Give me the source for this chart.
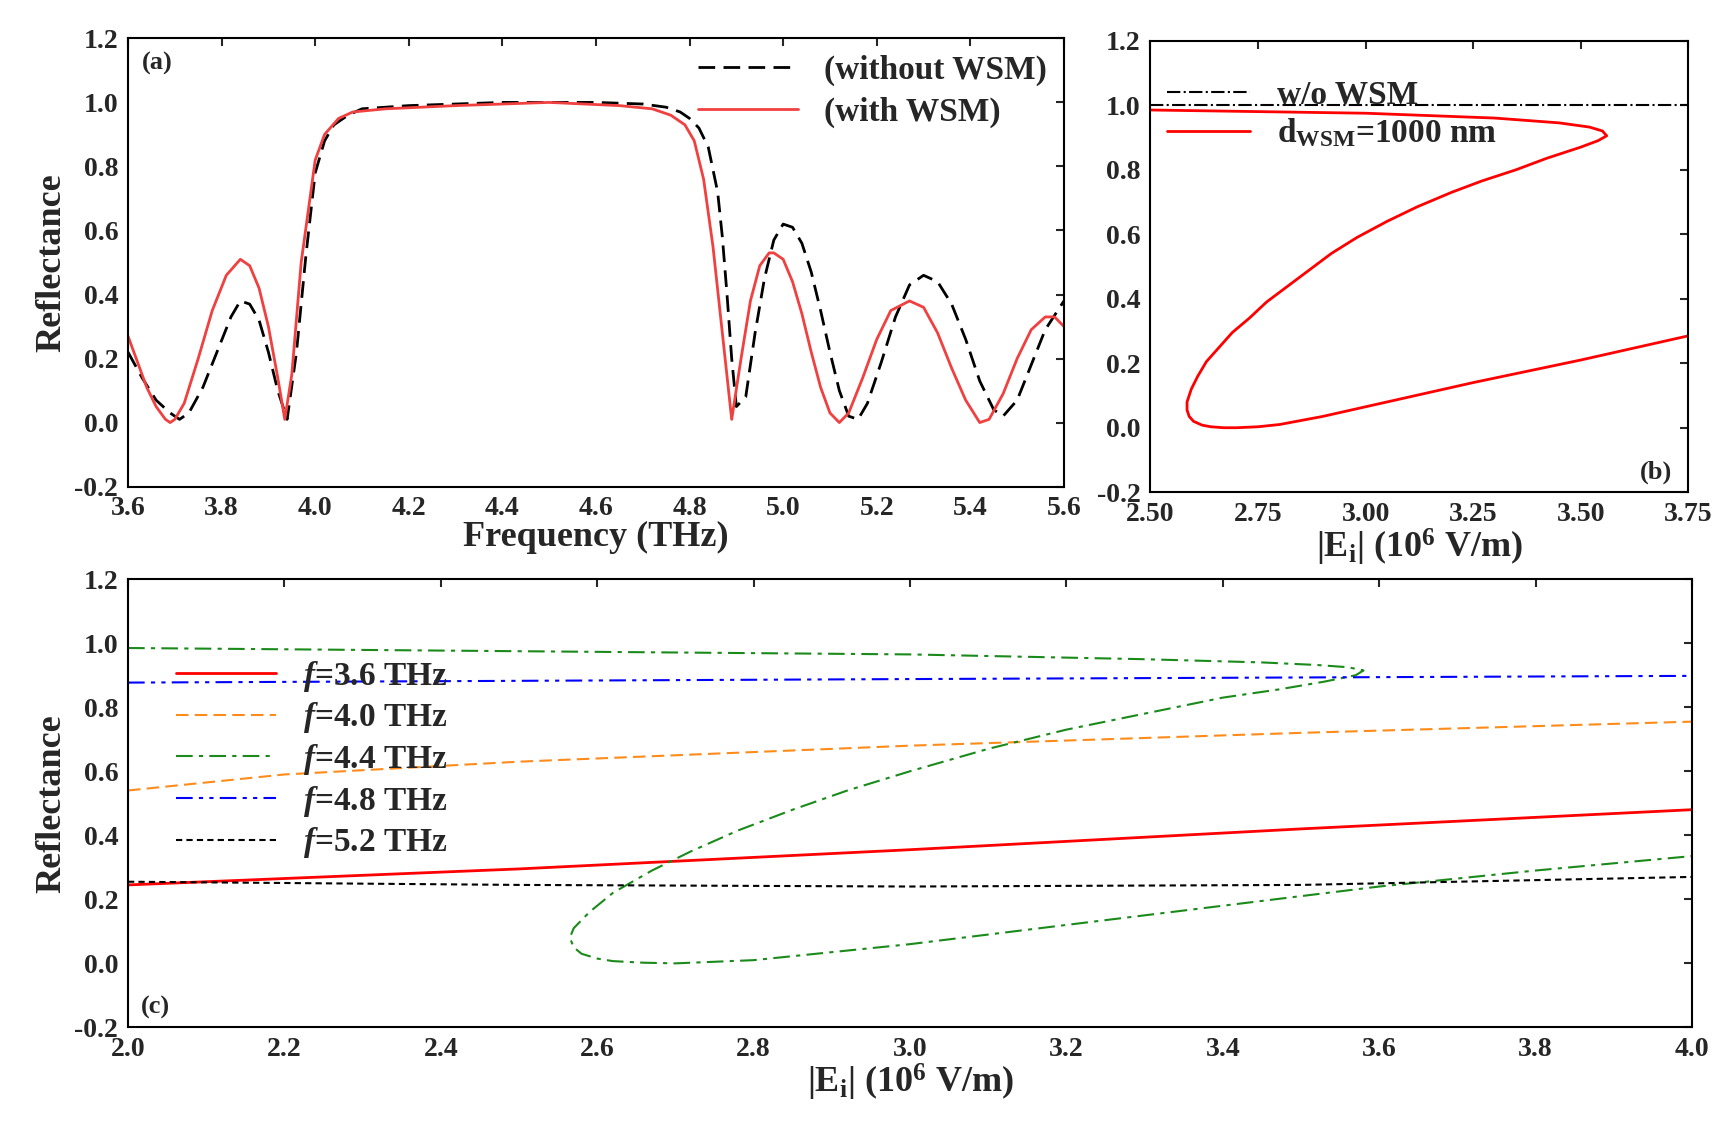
import numpy as np, pandas as pd, seaborn as sns, matplotlib
matplotlib.use("Agg")
import matplotlib.pyplot as plt
from matplotlib.ticker import MultipleLocator

sns.set_style("white")
plt.rcParams['font.family'] = ['Liberation Serif', 'DejaVu Serif']
plt.rcParams['font.weight'] = 'bold'
plt.rcParams['mathtext.fontset'] = 'custom'
plt.rcParams['mathtext.it'] = 'Liberation Serif:italic:bold'
plt.rcParams['mathtext.rm'] = 'Liberation Serif:bold'

# (a)
fa_wo = [3.6,3.63,3.66,3.69,3.71,3.73,3.76,3.79,3.82,3.84,3.86,3.88,3.90,3.92,3.94,3.96,3.98,4.0,4.02,4.04,4.07,4.1,4.2,4.4,4.6,4.7,4.75,4.78,4.80,4.82,4.84,4.86,4.87,4.88,4.89,4.90,4.92,4.94,4.96,4.98,5.0,5.02,5.04,5.06,5.08,5.10,5.12,5.14,5.16,5.18,5.21,5.24,5.27,5.30,5.33,5.36,5.39,5.42,5.45,5.47,5.50,5.53,5.56,5.6]
ra_wo = [0.22,0.14,0.07,0.03,0.01,0.03,0.11,0.22,0.33,0.38,0.37,0.32,0.22,0.10,0.01,0.22,0.52,0.78,0.88,0.93,0.96,0.98,0.99,1.0,1.0,0.995,0.985,0.97,0.95,0.92,0.86,0.72,0.58,0.40,0.20,0.05,0.08,0.28,0.45,0.57,0.62,0.61,0.56,0.47,0.35,0.22,0.10,0.02,0.01,0.06,0.19,0.33,0.43,0.46,0.44,0.37,0.26,0.13,0.04,0.02,0.07,0.18,0.29,0.38]
fa_w = [3.6,3.62,3.64,3.66,3.68,3.69,3.70,3.72,3.75,3.78,3.81,3.84,3.86,3.88,3.90,3.92,3.935,3.95,3.97,4.0,4.02,4.05,4.08,4.15,4.3,4.5,4.65,4.72,4.76,4.79,4.81,4.83,4.85,4.87,4.89,4.91,4.93,4.95,4.97,4.98,5.0,5.02,5.04,5.06,5.08,5.10,5.12,5.14,5.17,5.20,5.23,5.27,5.30,5.33,5.36,5.39,5.42,5.44,5.47,5.50,5.53,5.56,5.58,5.6]
ra_w = [0.27,0.19,0.11,0.05,0.01,0.0,0.01,0.06,0.20,0.35,0.46,0.51,0.49,0.42,0.30,0.14,0.01,0.15,0.50,0.82,0.90,0.95,0.97,0.98,0.99,1.0,0.99,0.98,0.96,0.93,0.88,0.76,0.55,0.28,0.01,0.20,0.38,0.49,0.53,0.53,0.51,0.44,0.34,0.22,0.11,0.03,0.0,0.03,0.14,0.26,0.35,0.38,0.36,0.28,0.17,0.07,0.0,0.01,0.09,0.20,0.29,0.33,0.33,0.30]
# (b)
eb = [2.5,3.0,3.3,3.45,3.52,3.55,3.56,3.54,3.5,3.42,3.35,3.27,3.2,3.12,3.05,2.98,2.92,2.87,2.82,2.77,2.73,2.69,2.66,2.63,2.61,2.595,2.585,2.585,2.59,2.60,2.62,2.64,2.67,2.7,2.75,2.8,2.9,3.0,3.25,3.5,3.75]
rb = [0.985,0.975,0.96,0.945,0.932,0.92,0.905,0.89,0.87,0.835,0.80,0.765,0.73,0.685,0.64,0.59,0.54,0.49,0.44,0.39,0.34,0.295,0.25,0.205,0.16,0.12,0.08,0.055,0.035,0.02,0.008,0.003,0.0,0.0,0.003,0.01,0.035,0.065,0.14,0.21,0.285]
eb_wo = [2.5,3.75]; rb_wo = [0.999,0.999]
# (c)
e44 = [2.0,2.5,3.0,3.3,3.45,3.52,3.56,3.58,3.57,3.53,3.47,3.4,3.3,3.2,3.1,3.0,2.92,2.85,2.78,2.72,2.67,2.62,2.59,2.57,2.565,2.57,2.58,2.60,2.62,2.66,2.7,2.8,3.0,3.2,3.4,3.6,3.8,4.0]
r44 = [0.985,0.975,0.965,0.95,0.94,0.932,0.925,0.915,0.90,0.88,0.855,0.83,0.78,0.73,0.67,0.60,0.54,0.48,0.415,0.35,0.29,0.22,0.16,0.11,0.08,0.05,0.03,0.015,0.007,0.002,0.0,0.01,0.06,0.12,0.18,0.24,0.29,0.335]
e36 = [2.0,2.5,3.0,3.5,4.0]; r36 = [0.245,0.295,0.355,0.42,0.48]
e40 = [2.0,2.1,2.2,2.35,2.5,2.75,3.0,3.5,4.0]; r40 = [0.54,0.565,0.59,0.61,0.63,0.655,0.68,0.72,0.755]
e48 = [2.0,3.0,4.0]; r48 = [0.877,0.888,0.898]
e52 = [2.0,2.5,3.0,3.5,4.0]; r52 = [0.255,0.245,0.24,0.245,0.27]

fig = plt.figure(figsize=(17.30, 11.29), dpi=100)
axa = fig.add_axes([0.074, 0.569, 0.541, 0.397])
axb = fig.add_axes([0.665, 0.564, 0.311, 0.400])
axc = fig.add_axes([0.074, 0.090, 0.904, 0.397])

def line(ax, x, y, **kw):
    sns.lineplot(x=x, y=y, ax=ax, sort=False, estimator=None, **kw)

line(axa, fa_wo, ra_wo, color='black', linestyle=(0,(6,3)), lw=2, label='(without WSM)')
line(axa, fa_w, ra_w, color='#f04040', lw=2, label='(with WSM)')
axa.set_xlim(3.6, 5.6); axa.set_ylim(0, 1.0)
axa.xaxis.set_major_locator(MultipleLocator(0.2))
axa.set_xlabel('Frequency (THz)', fontsize=26, fontweight='bold', labelpad=0)
axa.set_ylabel('Reflectance', fontsize=26, fontweight='bold')
axa.text(0.015, 0.97, '(a)', transform=axa.transAxes, fontsize=19, va='top', fontweight='bold')
axa.legend(loc='upper right', fontsize=24, frameon=False, handlelength=3, borderaxespad=0.1, labelspacing=0.3)

line(axb, eb_wo, rb_wo, color='black', linestyle='-.', lw=1.5, label='w/o WSM')
line(axb, eb, rb, color='red', lw=2, label=r'd$_{\mathrm{WSM}}$=1000 nm')
axb.set_xlim(2.5, 3.75); axb.set_ylim(0, 1.005)
axb.xaxis.set_major_locator(MultipleLocator(0.25))
axb.set_xlabel(r'|E$_{\mathrm{i}}$| (10$^{6}$ V/m)', fontsize=26, fontweight='bold', labelpad=0)
axb.text(0.97, 0.03, '(b)', transform=axb.transAxes, fontsize=19, ha='right', fontweight='bold')
axb.legend(loc='upper left', bbox_to_anchor=(0.0, 0.95), fontsize=24, frameon=False, handlelength=2.5, borderaxespad=0.1, labelspacing=0.2)

line(axc, e36, r36, color='red', lw=2, label='$f$=3.6 THz')
line(axc, e40, r40, color='#ff8c1a', lw=1.5, linestyle=(0,(6,3)), label='$f$=4.0 THz')
line(axc, e44, r44, color='#1a8a1a', lw=1.5, linestyle=(0,(8,3,2,3)), label='$f$=4.4 THz')
line(axc, e48, r48, color='blue', lw=1.5, linestyle=(0,(8,3,2,3,2,3)), label='$f$=4.8 THz')
line(axc, e52, r52, color='black', lw=1.5, linestyle=(0,(3,2)), label='$f$=5.2 THz')
axc.set_xlim(2.0, 4.0); axc.set_ylim(0, 1.0)
axc.xaxis.set_major_locator(MultipleLocator(0.2))
axc.set_xlabel(r'|E$_{\mathrm{i}}$| (10$^{6}$ V/m)', fontsize=26, fontweight='bold', labelpad=0)
axc.set_ylabel('Reflectance', fontsize=26, fontweight='bold')
axc.text(0.008, 0.03, '(c)', transform=axc.transAxes, fontsize=19, fontweight='bold')
axc.legend(loc='upper left', bbox_to_anchor=(0.02, 0.86), fontsize=24, frameon=False, handlelength=3, borderaxespad=0.1, labelspacing=0.2)

for ax in (axa, axb, axc):
    ax.yaxis.set_major_locator(MultipleLocator(0.2))
    ax.tick_params(direction='in', top=True, right=True, labelsize=20, width=1.5, length=6, pad=7)
    for s in ax.spines.values():
        s.set_linewidth(1.5); s.set_color('black')
    ax.set_yticks(ax.get_yticks())
    ax.set_yticklabels([f'{v:.1f}' for v in ax.get_yticks()])
    for t in ax.get_xticklabels() + ax.get_yticklabels():
        t.set_fontweight('bold')
axb.set_ylabel('')
fig.savefig('out.png', dpi=100)
